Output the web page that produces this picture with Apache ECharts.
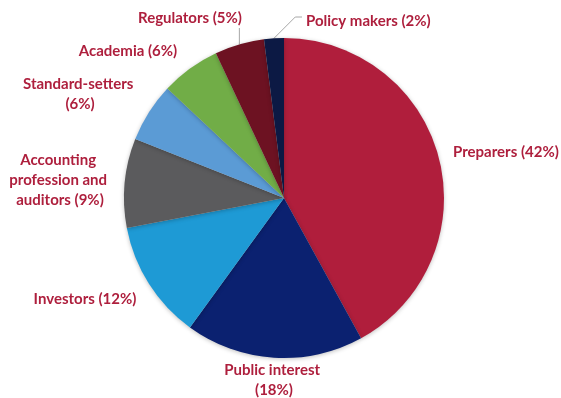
<!DOCTYPE html>
<html>
<head>
<meta charset="utf-8">
<script src="https://cdn.jsdelivr.net/npm/echarts@6/dist/echarts.min.js"></script>
<style>html,body{margin:0;padding:0;background:#fff;}#c{width:561px;height:398px;}</style>
</head>
<body>
<div id="c"></div>
<script>
const categories = ['Preparers', 'Public interest', 'Investors', 'Accounting profession and auditors', 'Standard-setters', 'Academia', 'Regulators', 'Policy makers'];
const values = [42, 18, 12, 9, 6, 6, 5, 2];
const colors = ['#B01E3C', '#0B2170', '#1E9AD5', '#5B5B5D', '#5B9BD5', '#71AD47', '#6D1222', '#0C1944'];

// label placement (style only)
const labelPlace = [
  { x: 453, y: 152, align: 'left', width: 200 },
  { x: 274, y: 380, align: 'center', width: 120 },
  { x: 85, y: 299, align: 'center', width: 200 },
  { x: 60, y: 180, align: 'center', width: 118 },
  { x: 80, y: 94, align: 'center', width: 130 },
  { x: 128, y: 51, align: 'center', width: 200 },
  { x: 190, y: 18, align: 'center', width: 200 },
  { x: 306, y: 21, align: 'left', width: 200 }
];

const chart = echarts.init(document.getElementById('c'), null, { renderer: 'canvas' });
const data = categories.map((n, i) => ({
  name: n,
  value: values[i],
  itemStyle: { color: colors[i] },
  label: { width: labelPlace[i].width, overflow: 'break' },
  labelLine: { show: i >= 6 }
}));

chart.setOption({
  animation: false,
  series: [{
    type: 'pie',
    center: [284, 198],
    radius: 160,
    startAngle: 90,
    clockwise: true,
    avoidLabelOverlap: false,
    data: data,
    itemStyle: { shadowBlur: 4, shadowColor: 'rgba(0,0,0,0.25)', shadowOffsetY: 1 },
    label: {
      show: true,
      position: 'outside',
      formatter: p => p.name + ' (' + p.value + '%)',
      color: '#AE1F3D',
      fontFamily: 'Lato',
      fontWeight: 'bold',
      fontSize: 15,
      lineHeight: 20
    },
    labelLine: { show: false, length: 10, length2: 10, lineStyle: { color: '#A6A6A6', width: 1 } },
    emphasis: { disabled: true },
    labelLayout: function (params) {
      const i = params.dataIndex;
      const lp = labelPlace[i];
      const res = { x: lp.x, y: lp.y, align: lp.align, verticalAlign: 'middle' };
      const pts = params.labelLinePoints;
      if (pts && i === 6) {
        const s = pts[0];
        res.labelLinePoints = [[s[0], s[1]], [s[0], lp.y + 10]];
      } else if (pts && i === 7) {
        const s = pts[0];
        const ky = lp.y - 4;
        res.labelLinePoints = [[s[0], s[1]], [s[0] + (s[1] - ky), ky], [lp.x - 4, ky]];
      }
      return res;
    }
  }]
});
</script>
</body>
</html>
